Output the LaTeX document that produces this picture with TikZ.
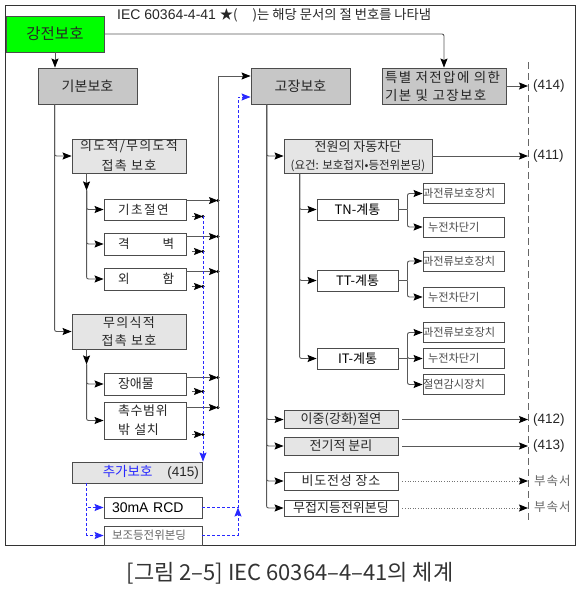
\documentclass[tikz,border=0pt]{standalone}
\usepackage{fontspec}
\setmainfont{Noto Sans CJK KR}
\newfontfamily\arial{Liberation Sans}
\usetikzlibrary{arrows.meta}
\definecolor{elgreen}{RGB}{0,255,0}
\definecolor{addblue}{RGB}{40,40,255}
\newcommand\fsz[2]{\fontsize{#1}{#2}\selectfont}

\begin{document}
\begin{tikzpicture}[x=1pt,y=-1pt,
  box/.style={draw=black!70, line width=0.9pt, inner sep=0pt, text=black!85, align=center},
  dbox/.style={box, fill=black!22},
  lbox/.style={box, fill=black!10},
  wbox/.style={box, fill=white},
  ibox/.style={wbox, minimum width=82pt, inner xsep=14pt, text width=54pt, align=left, font=\fsz{12.5}{19}},
  sbox/.style={wbox, minimum height=20pt, text width=81pt, align=left, text=black!70, font=\fsz{11.2}{13}},
  rbox/.style={box, minimum width=114pt, minimum height=18pt, font=\fsz{13}{15}},
  lbl/.style={anchor=west, inner sep=0pt, text=black!85, font=\arial\fsz{13.5}{15}},
  ln/.style={draw=black!65, line width=0.9pt},
  arr/.style={ln, rounded corners=2pt, -{Stealth[length=9pt,width=7pt,inset=1.5pt,color=black]}},
  darr/.style={arr, draw=black!55, dash pattern=on 1pt off 1.6pt},
  barr/.style={draw=addblue, line width=0.9pt, dash pattern=on 3pt off 2pt, -{Stealth[length=9pt,width=7pt,inset=1.5pt,color=addblue]}},
]
\useasboundingbox (0,0) rectangle (580,589);
\draw[black!80, line width=1pt] (5,5) rectangle (575,545);

\node[anchor=west, inner sep=0pt, text=black!85, font=\fsz{13.3}{15}] (head) at (117,15)
  {{\arial\fsz{14}{15}IEC 60364-4-41 }★(\hspace{15pt})는 해당 문서의 절 번호를 나타냄};

\node[box, fill=elgreen, minimum width=98pt, minimum height=36pt, font=\fsz{15.5}{18}] (gangjeon) at (55,34) {강전보호};
\node[dbox, minimum width=99pt, minimum height=36pt, font=\fsz{14}{16}] (gibon) at (87.5,86) {기본보호};
\node[dbox, minimum width=99pt, minimum height=36pt, font=\fsz{14}{16}] (gojang) at (300.5,86) {고장보호};
\node[dbox, minimum width=124pt, minimum height=36pt, text width=118pt, align=left,
  font=\fsz{13.5}{18}\addfontfeature{LetterSpace=10}] (teuk) at (444,86) {특별 저전압에 의한\\기본 및 고장보호};

% 기본보호 쪽
\node[lbox, minimum width=114pt, minimum height=34pt, font=\fsz{13}{20}\addfontfeature{LetterSpace=10}] (uido) at (129,156) {의도적/무의도적\\접촉 보호};
\node[ibox, minimum height=21pt, font=\fsz{12.5}{14}\addfontfeature{LetterSpace=12}] (gicho) at (145,209.5) {기초절연};
\node[ibox, minimum height=22pt] (gyeok) at (145,244) {\mbox{격\hspace{33pt}벽}};
\node[ibox, minimum height=22pt] (oeham) at (145,279) {\mbox{외\hspace{33pt}함}};
\node[lbox, minimum width=114pt, minimum height=35pt, font=\fsz{13}{18}\addfontfeature{LetterSpace=10}] (muuisik) at (129,331.5) {무의식적\\접촉 보호};
\node[ibox, minimum height=22pt, font=\fsz{13}{14}] (jangae) at (145,384) {장애물};
\node[ibox, minimum height=37pt, font=\fsz{13}{19}\addfontfeature{LetterSpace=5}] (choksu) at (145,420.5) {촉수범위\\밖 설치};

\node[lbox, minimum width=130pt, minimum height=21pt, inner xsep=3pt, text width=124pt, align=right, font=\fsz{13.5}{15}] (chuga) at (137,472.5)
  {{\color{addblue}추가보호}\hspace{15pt}{\arial (415)}};
\node[wbox, minimum height=21pt, inner xsep=8pt, text width=82pt, align=left, text=black, font=\arial\fsz{14}{15}] (rcd) at (153,507.5) {30mA RCD};
\node[wbox, minimum height=19pt, inner xsep=8pt, text width=82pt, align=left, text=black!60, font=\fsz{11.5}{13}] (bojo) at (153,535.5) {보조등전위본딩};

% 고장보호 쪽
\node[lbox, minimum width=148pt, minimum height=34pt, font=\fsz{13}{18}] (jawon) at (358,156)
  {전원의 자동차단\\{\fsz{11.5}{18}(요건: 보호접지•등전위본딩)}};
\node[wbox, minimum width=81pt, minimum height=21pt, text=black, font=\fsz{13}{15}] (tn) at (357.5,209.5) {TN-계통};
\node[wbox, minimum width=81pt, minimum height=21pt, text=black, font=\fsz{13}{15}] (tt) at (357.5,280.5) {TT-계통};
\node[wbox, minimum width=81pt, minimum height=21pt, text=black, font=\fsz{13}{15}] (it) at (357.5,358.5) {IT-계통};

\node[sbox] (tnocp) at (463.5,193.5) {과전류보호장치};
\node[sbox] (tnrcd) at (463.5,227) {\hspace*{5pt}누전차단기};
\node[sbox] (ttocp) at (463.5,261) {과전류보호장치};
\node[sbox] (ttrcd) at (463.5,297) {\hspace*{5pt}누전차단기};
\node[sbox] (itocp) at (463.5,332.5) {과전류보호장치};
\node[sbox] (itrcd) at (463.5,358.5) {\hspace*{5pt}누전차단기};
\node[sbox] (itimd) at (463.5,384.5) {절연감시장치};

\node[rbox, fill=black!10] (ijung) at (341,419.5) {이중(강화)절연};
\node[rbox, fill=black!10] (jeongi) at (341,446) {전기적 분리};
\node[rbox, fill=white, font=\fsz{13}{15}\addfontfeature{LetterSpace=6}] (bido) at (341,481) {비도전성 장소};
\node[rbox, fill=white, minimum height=16pt] (mujeop) at (341,508) {무접지등전위본딩};

\node[lbl] (c414) at (533,86) {(414)};
\node[lbl] (c411) at (533,156) {(411)};
\node[lbl] (c412) at (533,420) {(412)};
\node[lbl] (c413) at (533,446) {(413)};
\node[lbl, text=black!60, font=\fsz{12.5}{14}\addfontfeature{LetterSpace=8}] (bs1) at (534,481) {부속서};
\node[lbl, text=black!60, font=\fsz{12.5}{14}\addfontfeature{LetterSpace=8}] (bs2) at (534,507) {부속서};

\node[text=black!80, font=\fsz{22}{24}] (caption) at (290,573) {[그림 2–5] IEC 60364–4–41의 체계};

% 버스 좌표
\coordinate (gbBus) at ([xshift=17pt]gibon.south west);
\coordinate (udBus) at ([xshift=15pt]uido.south west);
\coordinate (udJ) at ([yshift=-17pt]udBus);
\coordinate (muBus) at ([xshift=15pt]muuisik.south west);
\coordinate (muJ) at ([yshift=-15pt]muBus);
\coordinate (gjBus) at ([xshift=16pt]gojang.south west);
\coordinate (jwBus) at ([xshift=16pt]jawon.south west);
\coordinate (busK) at (218,76);
\coordinate (busA) at (203,216);
\coordinate (busB) at (238,97);
\coordinate (dashT) at (528,62);
\coordinate (dashB) at (528,523);
\coordinate (chJ) at ([xshift=15pt]chuga.south west);

\draw[arr] (gangjeon.south) -- (gangjeon.south |- gibon.north);
\draw[arr] (gangjeon.east) -| (teuk.north);

\draw[arr] (gbBus) |- (uido.west);
\draw[arr] (gbBus) |- (muuisik.west);
\draw[arr] (udBus) -- (udJ);
\draw[arr] (muBus) -- (muJ);
\foreach \n in {gicho,gyeok,oeham} \draw[arr] (udJ) |- (\n.west);
\foreach \n in {jangae,choksu} \draw[arr] (muJ) |- (\n.west);

\foreach \n/\u/\d in {gicho/2/4, gyeok/4/4, oeham/4/4, jangae/5/4, choksu/6/5} {
  \coordinate (u\n) at ([yshift=-\u pt]\n.north east);
  \coordinate (l\n) at ([xshift=6pt,yshift=\d pt]\n.south east);
  \draw[arr] (u\n) -- (u\n -| busK);
  \filldraw[black] (u\n -| busK) circle (1.3pt);
  \draw[arr] (l\n) -- (l\n -| busA);
  \filldraw[black] (l\n -| busA) circle (1.3pt);
}
\draw[ln] (busK) -- (busK |- uchoksu);
\draw[arr] (busK) -- (busK -| gojang.west);
\draw[barr] (busA) -- (busA |- chuga.north);

\draw[barr] (chJ) |- (rcd.west);
\draw[barr] (chJ) |- (bojo.west);
\draw[barr] (bojo.east) -- (bojo.east -| busB) -- (busB |- rcd.east);
\draw[barr] (rcd.east) -- (rcd.east -| busB) -- (busB) -- (busB -| gojang.west);

\foreach \n in {jawon,ijung,jeongi,bido,mujeop} \draw[arr] (gjBus) |- (\n.west);
\foreach \n in {tn,tt,it} \draw[arr] (jwBus) |- (\n.west);

\draw[ln] (tn.east) -- ([xshift=9pt]tn.east) coordinate (tnJ);
\draw[ln] (tt.east) -- ([xshift=9pt]tt.east) coordinate (ttJ);
\draw[ln] (it.east) -- ([xshift=9pt]it.east) coordinate (itJ);
\foreach \n in {tnocp,tnrcd} \draw[arr] (tnJ) |- (\n.west);
\foreach \n in {ttocp,ttrcd} \draw[arr] (ttJ) |- (\n.west);
\foreach \n in {itocp,itrcd,itimd} \draw[arr] (itJ) |- (\n.west);

\draw[black!60, line width=0.8pt, dash pattern=on 7pt off 4pt] (dashT) -- (dashB);
\draw[arr] (teuk.east) -- (teuk.east -| dashT);
\draw[arr] (jawon.east) -- (jawon.east -| dashT);
\coordinate (sij) at ([xshift=4pt]ijung.east);
\coordinate (sje) at ([xshift=4pt]jeongi.east);
\coordinate (sbi) at ([xshift=4pt]bido.east);
\coordinate (smu) at ([xshift=4pt]mujeop.east);
\draw[arr] (sij) -- (sij -| dashT);
\draw[arr] (sje) -- (sje -| dashT);
\draw[darr] (sbi) -- (sbi -| dashT);
\draw[darr] (smu) -- (smu -| dashT);
\end{tikzpicture}
\end{document}
